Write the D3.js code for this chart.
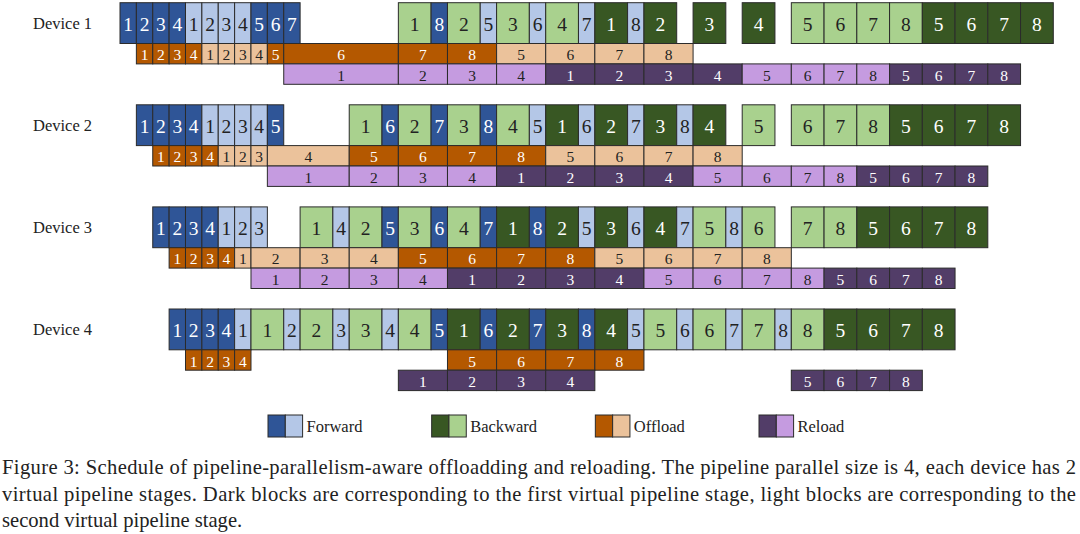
<!DOCTYPE html>
<html>
<head>
<meta charset="utf-8">
<script src="https://cdn.jsdelivr.net/npm/d3@7"></script>
<style>
html,body{margin:0;padding:0;background:#fff;}
svg{display:block;}
</style>
</head>
<body>
<svg id="chart" width="1080" height="534"></svg>
<script>
// ---- DATA: [kind, number, start, end, dark(1)/light(0)] in time units ----
const devices = ["Device 1", "Device 2", "Device 3", "Device 4"];

const dev1Compute = [
  ["F",1,0,1,1],["F",2,1,2,1],["F",3,2,3,1],["F",4,3,4,1],
  ["F",1,4,5,0],["F",2,5,6,0],["F",3,6,7,0],["F",4,7,8,0],
  ["F",5,8,9,1],["F",6,9,10,1],["F",7,10,11,1],
  ["B",1,17,19,0],["F",8,19,20,1],["B",2,20,22,0],["F",5,22,23,0],
  ["B",3,23,25,0],["F",6,25,26,0],["B",4,26,28,0],["F",7,28,29,0],
  ["B",1,29,31,1],["F",8,31,32,0],["B",2,32,34,1],["B",3,35,37,1],["B",4,38,40,1],
  ["B",5,41,43,0],["B",6,43,45,0],["B",7,45,47,0],["B",8,47,49,0],
  ["B",5,49,51,1],["B",6,51,53,1],["B",7,53,55,1],["B",8,55,57,1]
];
const dev1Offload = [
  ["O",1,1,2,1],["O",2,2,3,1],["O",3,3,4,1],["O",4,4,5,1],
  ["O",1,5,6,0],["O",2,6,7,0],["O",3,7,8,0],["O",4,8,9,0],
  ["O",5,9,10,1],["O",6,10,17,1],["O",7,17,20,1],["O",8,20,23,1],
  ["O",5,23,26,0],["O",6,26,29,0],["O",7,29,32,0],["O",8,32,35,0]
];
const dev1Reload = [
  ["R",1,10,17,0],["R",2,17,20,0],["R",3,20,23,0],["R",4,23,26,0],
  ["R",1,26,29,1],["R",2,29,32,1],["R",3,32,35,1],["R",4,35,38,1],
  ["R",5,38,41,0],["R",6,41,43,0],["R",7,43,45,0],["R",8,45,47,0],
  ["R",5,47,49,1],["R",6,49,51,1],["R",7,51,53,1],["R",8,53,55,1]
];

const dev2Compute = [
  ["F",1,1,2,1],["F",2,2,3,1],["F",3,3,4,1],["F",4,4,5,1],
  ["F",1,5,6,0],["F",2,6,7,0],["F",3,7,8,0],["F",4,8,9,0],["F",5,9,10,1],
  ["B",1,14,16,0],["F",6,16,17,1],["B",2,17,19,0],["F",7,19,20,1],
  ["B",3,20,22,0],["F",8,22,23,1],["B",4,23,25,0],["F",5,25,26,0],
  ["B",1,26,28,1],["F",6,28,29,0],["B",2,29,31,1],["F",7,31,32,0],
  ["B",3,32,34,1],["F",8,34,35,0],["B",4,35,37,1],["B",5,38,40,0],
  ["B",6,41,43,0],["B",7,43,45,0],["B",8,45,47,0],
  ["B",5,47,49,1],["B",6,49,51,1],["B",7,51,53,1],["B",8,53,55,1]
];
const dev2Offload = [
  ["O",1,2,3,1],["O",2,3,4,1],["O",3,4,5,1],["O",4,5,6,1],
  ["O",1,6,7,0],["O",2,7,8,0],["O",3,8,9,0],["O",4,9,14,0],
  ["O",5,14,17,1],["O",6,17,20,1],["O",7,20,23,1],["O",8,23,26,1],
  ["O",5,26,29,0],["O",6,29,32,0],["O",7,32,35,0],["O",8,35,38,0]
];
const dev2Reload = [
  ["R",1,9,14,0],["R",2,14,17,0],["R",3,17,20,0],["R",4,20,23,0],
  ["R",1,23,26,1],["R",2,26,29,1],["R",3,29,32,1],["R",4,32,35,1],
  ["R",5,35,38,0],["R",6,38,41,0],["R",7,41,43,0],["R",8,43,45,0],
  ["R",5,45,47,1],["R",6,47,49,1],["R",7,49,51,1],["R",8,51,53,1]
];

const dev3Compute = [
  ["F",1,2,3,1],["F",2,3,4,1],["F",3,4,5,1],["F",4,5,6,1],
  ["F",1,6,7,0],["F",2,7,8,0],["F",3,8,9,0],
  ["B",1,11,13,0],["F",4,13,14,0],["B",2,14,16,0],["F",5,16,17,1],
  ["B",3,17,19,0],["F",6,19,20,1],["B",4,20,22,0],["F",7,22,23,1],
  ["B",1,23,25,1],["F",8,25,26,1],["B",2,26,28,1],["F",5,28,29,0],
  ["B",3,29,31,1],["F",6,31,32,0],["B",4,32,34,1],["F",7,34,35,0],
  ["B",5,35,37,0],["F",8,37,38,0],["B",6,38,40,0],
  ["B",7,41,43,0],["B",8,43,45,0],
  ["B",5,45,47,1],["B",6,47,49,1],["B",7,49,51,1],["B",8,51,53,1]
];
const dev3Offload = [
  ["O",1,3,4,1],["O",2,4,5,1],["O",3,5,6,1],["O",4,6,7,1],
  ["O",1,7,8,0],["O",2,8,11,0],["O",3,11,14,0],["O",4,14,17,0],
  ["O",5,17,20,1],["O",6,20,23,1],["O",7,23,26,1],["O",8,26,29,1],
  ["O",5,29,32,0],["O",6,32,35,0],["O",7,35,38,0],["O",8,38,41,0]
];
const dev3Reload = [
  ["R",1,8,11,0],["R",2,11,14,0],["R",3,14,17,0],["R",4,17,20,0],
  ["R",1,20,23,1],["R",2,23,26,1],["R",3,26,29,1],["R",4,29,32,1],
  ["R",5,32,35,0],["R",6,35,38,0],["R",7,38,41,0],["R",8,41,43,0],
  ["R",5,43,45,1],["R",6,45,47,1],["R",7,47,49,1],["R",8,49,51,1]
];

const dev4Compute = [
  ["F",1,3,4,1],["F",2,4,5,1],["F",3,5,6,1],["F",4,6,7,1],
  ["F",1,7,8,0],["B",1,8,10,0],["F",2,10,11,0],["B",2,11,13,0],
  ["F",3,13,14,0],["B",3,14,16,0],["F",4,16,17,0],["B",4,17,19,0],
  ["F",5,19,20,1],["B",1,20,22,1],["F",6,22,23,1],["B",2,23,25,1],
  ["F",7,25,26,1],["B",3,26,28,1],["F",8,28,29,1],["B",4,29,31,1],
  ["F",5,31,32,0],["B",5,32,34,0],["F",6,34,35,0],["B",6,35,37,0],
  ["F",7,37,38,0],["B",7,38,40,0],["F",8,40,41,0],["B",8,41,43,0],
  ["B",5,43,45,1],["B",6,45,47,1],["B",7,47,49,1],["B",8,49,51,1]
];
const dev4Offload = [
  ["O",1,4,5,1],["O",2,5,6,1],["O",3,6,7,1],["O",4,7,8,1],
  ["O",5,20,23,1],["O",6,23,26,1],["O",7,26,29,1],["O",8,29,32,1]
];
const dev4Reload = [
  ["R",1,17,20,1],["R",2,20,23,1],["R",3,23,26,1],["R",4,26,29,1],
  ["R",5,41,43,1],["R",6,43,45,1],["R",7,45,47,1],["R",8,47,49,1]
];

const schedule = [
  [dev1Compute, dev1Offload, dev1Reload],
  [dev2Compute, dev2Offload, dev2Reload],
  [dev3Compute, dev3Offload, dev3Reload],
  [dev4Compute, dev4Offload, dev4Reload]
];

const legendKinds = ["F", "B", "O", "R"];
const legendLabels = ["Forward", "Backward", "Offload", "Reload"];

const captionLines = [
  "Figure 3: Schedule of pipeline-parallelism-aware offloadding and reloading. The pipeline parallel size is 4, each device has 2",
  "virtual pipeline stages. Dark blocks are corresponding to the first virtual pipeline stage, light blocks are corresponding to the",
  "second virtual pipeline stage."
];

// ---- STYLE ----
const colors = {
  F: ["#b4c7e7", "#2f5597"],
  B: ["#a9d18e", "#385723"],
  O: ["#ebc29b", "#b45800"],
  R: ["#c59be0", "#523d68"]
};
const serif = "'Liberation Serif', 'Times New Roman', serif";

const svg = d3.select("#chart");
const x = d3.scaleLinear().domain([0, 57]).range([120, 1053.3]);

const devTop = d3.scaleLinear().domain([0, 3]).range([2.7, 309]);
const topH = 40.8, subH = 20.4;

devices.forEach((name, di) => {
  const y0 = devTop(di);
  svg.append("text")
    .attr("x", 33).attr("y", y0 + 20.5)
    .attr("dominant-baseline", "central")
    .attr("font-family", serif).attr("font-size", 16.5)
    .attr("fill", "#222")
    .text(name);

  const rows = schedule[di];
  const rowY = [y0, y0 + topH, y0 + topH + subH];
  const rowH = [topH, subH, subH];
  const fs = [19.5, 15.5, 15.5];
  rows.forEach((blocks, ri) => {
    const g = svg.append("g");
    const sel = g.selectAll("g.b").data(blocks).enter().append("g").attr("class", "b");
    sel.append("rect")
      .attr("x", d => x(d[2]))
      .attr("y", rowY[ri])
      .attr("width", d => x(d[3]) - x(d[2]))
      .attr("height", rowH[ri])
      .attr("fill", d => colors[d[0]][d[4]])
      .attr("stroke", "#2b2b2b")
      .attr("stroke-width", 1);
    sel.append("text")
      .attr("x", d => (x(d[2]) + x(d[3])) / 2)
      .attr("y", rowY[ri] + rowH[ri] / 2 + 1)
      .attr("text-anchor", "middle")
      .attr("dominant-baseline", "central")
      .attr("font-family", serif)
      .attr("font-size", fs[ri])
      .attr("fill", d => d[4] ? "#ffffff" : "#222222")
      .text(d => d[1]);
  });
});

// ---- LEGEND ----
const legendX = d3.scalePoint().domain(legendKinds).range([268, 759]);
legendKinds.forEach((k, i) => {
  const lx = legendX(k);
  [1, 0].forEach((shade, j) => {
    svg.append("rect")
      .attr("x", lx + j * 17.3).attr("y", 415)
      .attr("width", 17.3).attr("height", 22)
      .attr("fill", colors[k][shade])
      .attr("stroke", "#2b2b2b").attr("stroke-width", 1);
  });
  svg.append("text")
    .attr("x", lx + 38.5).attr("y", 426.5)
    .attr("dominant-baseline", "central")
    .attr("font-family", serif).attr("font-size", 16.5)
    .attr("fill", "#222")
    .text(legendLabels[i]);
});

// ---- CAPTION ----
const capY = [474, 500.5, 527];
captionLines.forEach((t, i) => {
  const txt = svg.append("text")
    .attr("x", 2).attr("y", capY[i])
    .attr("font-family", serif).attr("font-size", 20.6)
    .attr("fill", "#222")
    .text(t);
  if (i < 2) txt.attr("textLength", 1074).attr("lengthAdjust", "spacing");
});
</script>
</body>
</html>
